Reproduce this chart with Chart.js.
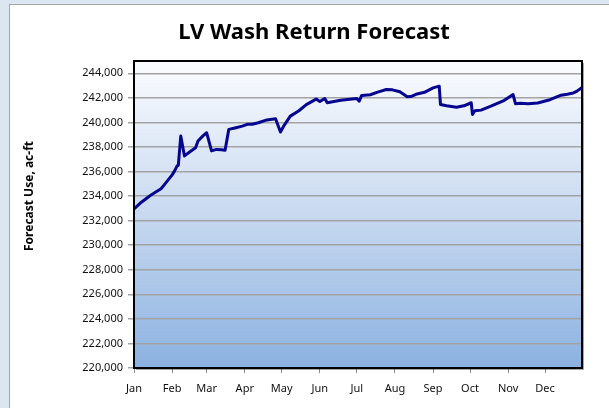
<!DOCTYPE html>
<html>
<head>
<meta charset="utf-8">
<script src="https://cdn.jsdelivr.net/npm/chart.js@4.4.1/dist/chart.umd.min.js"></script>
<style>
  html, body { margin: 0; padding: 0; background: #dce6f1; }
  #panel { position: absolute; left: 9px; top: 4px; width: 610px; height: 420px; background: #fff; border: 1px solid #a6a6a6; }
  #wrap { position: absolute; left: 0; top: 0; width: 609px; height: 408px; }
</style>
</head>
<body>
<div id="panel"></div>
<div id="wrap"><canvas id="chart" width="609" height="408"></canvas></div>
<script>
// day of year -> forecast use (ac-ft)
const days = [0, 6, 13, 18, 22, 26, 31, 33, 35, 36, 38, 41, 46, 50, 52, 56, 59, 63, 67, 71, 74, 77, 82, 88, 92, 96, 101, 108, 115, 119, 122, 127, 134, 140, 148, 151, 155, 157, 168, 181, 183, 185, 192, 198, 205, 210, 216, 222, 225, 230, 236, 243, 248, 249, 254, 262, 268, 274, 275, 277, 282, 290, 300, 308, 310, 314, 320, 328, 338, 347, 352, 357, 360, 364];
const usage = [232950, 233500, 234030, 234350, 234600, 235100, 235730, 236050, 236460, 236500, 238890, 237270, 237650, 237940, 238490, 238900, 239160, 237680, 237800, 237780, 237730, 239430, 239550, 239700, 239840, 239850, 239970, 240200, 240300, 239220, 239760, 240510, 240950, 241450, 241900, 241700, 241950, 241600, 241800, 241950, 241730, 242200, 242250, 242460, 242680, 242650, 242490, 242080, 242100, 242320, 242450, 242810, 242950, 241460, 241350, 241240, 241350, 241600, 240650, 240950, 241000, 241320, 241750, 242270, 241510, 241550, 241520, 241580, 241850, 242215, 242300, 242400, 242550, 242850];

const monthStarts = [0, 31, 59, 90, 120, 151, 181, 212, 243, 273, 304, 334];
const monthLabels = ['Jan', 'Feb', 'Mar', 'Apr', 'May', 'Jun', 'Jul', 'Aug', 'Sep', 'Oct', 'Nov', 'Dec'];

const yTicks = [220000, 222000, 224000, 226000, 228000, 230000, 232000, 234000, 236000, 238000, 240000, 242000, 244000];

let points = [];
for (let i = 0; i < days.length; i++) {
    points.push({ x: days[i], y: usage[i] });
}

const plotBack = {
    id: 'plotBack',
    beforeDraw(chart) {
        let ctx = chart.ctx;
        let a = chart.chartArea;
        let g = ctx.createLinearGradient(0, a.top, 0, a.bottom);
        g.addColorStop(0, '#fbfcff');
        g.addColorStop(0.5, '#c8d9f0');
        g.addColorStop(1, '#8bb1e1');
        ctx.save();
        ctx.fillStyle = g;
        ctx.fillRect(a.left, a.top, a.right - a.left, a.bottom - a.top);
        ctx.restore();
    },
    afterDraw(chart) {
        let ctx = chart.ctx;
        let a = chart.chartArea;
        ctx.save();
        // frame round the plot
        ctx.strokeStyle = '#000';
        ctx.lineWidth = 2;
        ctx.strokeRect(a.left, a.top, a.right - a.left, a.bottom - a.top);
        ctx.strokeStyle = 'rgba(0,0,0,0.35)';
        ctx.lineWidth = 1;
        ctx.beginPath();
        ctx.moveTo(a.right + 1.5, a.top + 2);
        ctx.lineTo(a.right + 1.5, a.bottom + 1.5);
        ctx.lineTo(a.left + 2, a.bottom + 1.5);
        ctx.stroke();
        // y axis title
        ctx.translate(30, 196);
        ctx.rotate(-Math.PI / 2);
        ctx.fillStyle = '#000';
        ctx.font = 'bold 12px "Noto Sans"';
        ctx.textAlign = 'center';
        ctx.textBaseline = 'middle';
        ctx.fillText('Forecast Use, ac-ft', 0, 0);
        ctx.restore();
    }
};

new Chart(document.getElementById('chart'), {
    type: 'line',
    data: {
        datasets: [{
            data: points,
            borderColor: '#050590',
            borderWidth: 3,
            borderJoinStyle: 'round',
            borderCapStyle: 'round',
            pointRadius: 0,
            tension: 0,
            fill: false
        }]
    },
    options: {
        responsive: false,
        animation: false,
        layout: { padding: { left: 46, right: 27, top: 0, bottom: 0 } },
        plugins: {
            legend: { display: false },
            tooltip: { enabled: false },
            title: {
                display: true,
                text: 'LV Wash Return Forecast',
                color: '#000',
                font: { family: 'Noto Sans', size: 22, weight: 'bold' },
                padding: { top: 20, bottom: 14.6 }
            }
        },
        scales: {
            x: {
                type: 'linear',
                min: 0,
                max: 364,
                afterBuildTicks(scale) {
                    scale.ticks = monthStarts.map(v => ({ value: v }));
                },
                afterFit(scale) { scale.height = 40; },
                ticks: {
                    color: '#111',
                    font: { family: 'Noto Sans', size: 11 },
                    padding: 9,
                    maxRotation: 0,
                    autoSkip: false,
                    callback: function (value) {
                        return monthLabels[monthStarts.indexOf(value)];
                    }
                },
                grid: { drawOnChartArea: false, drawTicks: true, tickLength: 5, color: '#8c8c8c' },
                border: { display: true, color: '#000', width: 2 }
            },
            y: {
                min: 220000,
                max: 245000,
                afterBuildTicks(scale) {
                    scale.ticks = yTicks.map(v => ({ value: v }));
                },
                afterFit(scale) { scale.width = 88; },
                ticks: {
                    color: '#111',
                    font: { family: 'Noto Sans', size: 11 },
                    padding: 5,
                    callback: function (value) {
                        return value.toLocaleString('en-US');
                    }
                },
                grid: { color: '#a3a3a3', lineWidth: 1.5, tickLength: 6 },
                border: { display: true, color: '#000', width: 2 }
            }
        }
    },
    plugins: [plotBack]
});
</script>
</body>
</html>
